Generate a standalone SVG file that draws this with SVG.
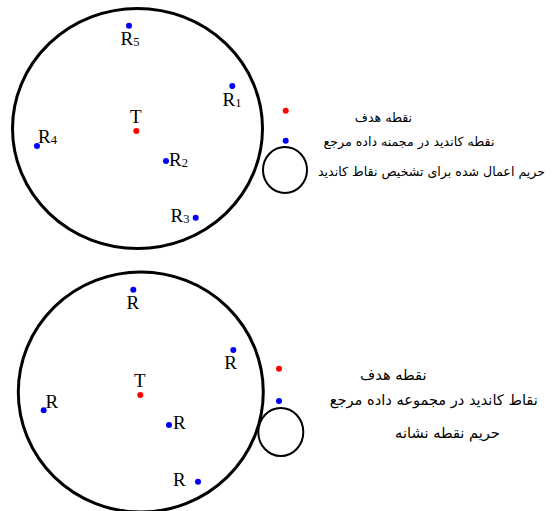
<svg xmlns="http://www.w3.org/2000/svg" width="554" height="511" viewBox="0 0 554 511">
<style>
.big{fill:none;stroke:#000;stroke-width:3}
.small{fill:none;stroke:#000;stroke-width:2}
.red{fill:#ff0000}
.blue{fill:#0000ff}
.lbl{font-family:"Liberation Serif","Times New Roman",serif;font-size:19px;fill:#000}
.sub{font-size:12.5px}
.fa{font-family:"DejaVu Sans","Noto Sans",sans-serif;font-size:12.6px;fill:#000;text-anchor:middle}
.fb{font-size:14.6px}
</style>
<rect width="554" height="511" fill="#fff"/>
<g id="top-diagram">
  <g id="top-region"><ellipse class="big" cx="137.5" cy="128.5" rx="125" ry="120"/></g>
  <g id="top-T"><text class="lbl" x="130" y="123">T</text><circle class="red" cx="136.3" cy="131" r="3"/></g>
  <g id="top-R5"><circle class="blue" cx="129" cy="25.7" r="3"/><text class="lbl" x="120.5" y="45">R<tspan class="sub" dy="1">5</tspan></text></g>
  <g id="top-R1"><circle class="blue" cx="232.3" cy="86" r="3"/><text class="lbl" x="222.5" y="106">R<tspan class="sub" dy="1">1</tspan></text></g>
  <g id="top-R4"><circle class="blue" cx="37" cy="146" r="3"/><text class="lbl" x="38" y="143">R<tspan class="sub" dy="1">4</tspan></text></g>
  <g id="top-R2"><circle class="blue" cx="166" cy="161" r="3"/><text class="lbl" x="169" y="166">R<tspan class="sub" dy="1">2</tspan></text></g>
  <g id="top-R3"><circle class="blue" cx="195.7" cy="217.7" r="3"/><text class="lbl" x="170.5" y="222">R<tspan class="sub" dy="1">3</tspan></text></g>
  <g id="top-legend">
    <circle class="red" cx="285.7" cy="110.7" r="3"/>
    <circle class="blue" cx="285.7" cy="140.7" r="3"/>
    <ellipse class="small" cx="285" cy="170" rx="22" ry="23"/>
    <text class="fa" x="383.5" y="122">نقطه هدف</text>
    <text class="fa" x="409" y="146">نقطه کاندید در مجمنه داده مرجع</text>
    <text class="fa" x="431.5" y="176">حریم اعمال شده برای تشخیص نقاط کاندید</text>
  </g>
</g>
<g id="bottom-diagram">
  <g id="bottom-region"><ellipse class="big" cx="140.8" cy="392" rx="122.5" ry="120"/></g>
  <g id="bottom-T"><text class="lbl" x="134" y="387">T</text><circle class="red" cx="140.3" cy="395" r="3"/></g>
  <g id="bottom-R-top"><circle class="blue" cx="133.3" cy="289.7" r="3"/><text class="lbl" x="126.5" y="308.5">R</text></g>
  <g id="bottom-R-right"><circle class="blue" cx="233.3" cy="350" r="3"/><text class="lbl" x="224.3" y="368.5">R</text></g>
  <g id="bottom-R-left"><circle class="blue" cx="43.7" cy="410.3" r="3"/><text class="lbl" x="45.5" y="408">R</text></g>
  <g id="bottom-R-mid"><circle class="blue" cx="169" cy="425" r="3"/><text class="lbl" x="173" y="428.5">R</text></g>
  <g id="bottom-R-bottom"><circle class="blue" cx="198" cy="481.7" r="3"/><text class="lbl" x="173" y="486">R</text></g>
  <g id="bottom-legend">
    <circle class="red" cx="279" cy="368.7" r="3"/>
    <circle class="blue" cx="279" cy="401" r="3"/>
    <ellipse class="small" cx="280.8" cy="432" rx="22.5" ry="24"/>
    <text class="fa fb" x="393.3" y="380">نقطه هدف</text>
    <text class="fa fb" x="433.8" y="405">نقاط کاندید در مجموعه داده مرجع</text>
    <text class="fa fb" x="447.5" y="438">حریم نقطه نشانه</text>
  </g>
</g>
</svg>
